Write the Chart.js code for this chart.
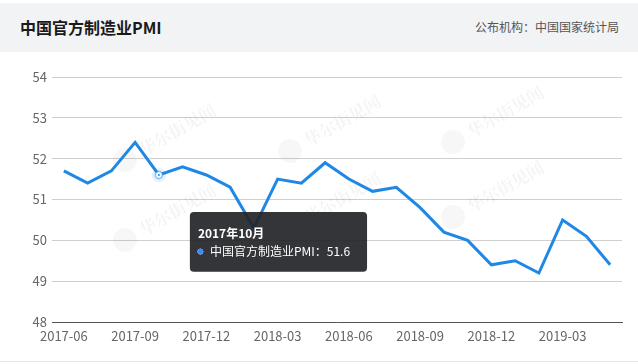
<!DOCTYPE html>
<html>
<head>
<meta charset="utf-8">
<script src="https://cdn.jsdelivr.net/npm/chart.js@4"></script>
<style>
  html, body { margin: 0; padding: 0; background: #fff; }
  body { width: 638px; height: 364px; position: relative; overflow: hidden; font-family: "Noto Sans CJK SC", "Open Sans", sans-serif; }
  #hdr { position: absolute; left: 0; top: 3px; width: 638px; height: 49px; background: #f2f3f5; }
  #title { position: absolute; left: 20px; top: 13px; font-size: 16px; font-weight: bold; color: #1a1a1a; line-height: 22px; }
  #src { position: absolute; right: 19px; top: 16px; font-size: 12px; color: #555; line-height: 16px; }
  #wrap { position: absolute; left: 0; top: 52px; width: 638px; height: 308px; }
  #foot { position: absolute; left: 0; top: 361px; width: 638px; height: 1px; background: #e6e6e6; }
</style>
</head>
<body>
<div id="hdr"><div id="title">中国官方制造业PMI</div><div id="src">公布机构：中国国家统计局</div></div>
<div id="wrap"><canvas id="c" width="638" height="308"></canvas></div>
<div id="foot"></div>
<script>
const categories = ["2017-06","2017-07","2017-08","2017-09","2017-10","2017-11","2017-12",
  "2018-01","2018-02","2018-03","2018-04","2018-05","2018-06","2018-07","2018-08","2018-09",
  "2018-10","2018-11","2018-12","2019-01","2019-02","2019-03","2019-04","2019-05"];
const pmiValues = [51.7,51.4,51.7,52.4,51.6,51.8,51.6,51.3,50.3,51.5,51.4,51.9,51.5,51.2,51.3,50.8,50.2,50.0,49.4,49.5,49.2,50.5,50.1,49.4];
const seriesName = "中国官方制造业PMI";
const yTicks = [48,49,50,51,52,53,54];
const activeIndex = 4;
const watermarkText = "华尔街见闻";

const FONT = '"Noto Sans CJK SC", "Open Sans", sans-serif';
const BLUE = '#1f87e5';

Chart.Tooltip.positioners.offsetPoint = function(items) {
  if (!items.length) return false;
  const el = items[0].element;
  return { x: el.x + 35, y: el.y + 37 };
};

const watermarkPlugin = {
  id: 'watermark',
  beforeDatasetsDraw(chart) {
    const ctx = chart.ctx;
    const spots = [[125,108],[125,188],[290,99],[290,176],[453,90],[453,165]];
    ctx.save();
    spots.forEach(([x,y]) => {
      ctx.save();
      ctx.translate(x, y);
      ctx.rotate(-Math.PI/6);
      ctx.fillStyle = 'rgba(0,0,0,0.03)';
      ctx.beginPath(); ctx.arc(0, 0, 12, 0, Math.PI*2); ctx.fill();
      ctx.fillStyle = 'rgba(0,0,0,0.045)';
      ctx.font = 'bold 17px "Noto Serif CJK SC", ' + FONT;
      ctx.textBaseline = 'middle';
      ctx.fillText(watermarkText, 18, 0);
      ctx.restore();
    });
    ctx.restore();
  }
};

const glowPlugin = {
  id: 'glow',
  afterDatasetsDraw(chart) {
    const active = chart.getActiveElements();
    if (!active.length) return;
    const el = active[0].element;
    const ctx = chart.ctx;
    ctx.save();
    ctx.fillStyle = 'rgba(31,135,229,0.12)';
    ctx.beginPath(); ctx.arc(el.x, el.y, 7, 0, Math.PI*2); ctx.fill();
    ctx.fillStyle = '#fff';
    ctx.strokeStyle = 'rgba(31,135,229,0.5)';
    ctx.lineWidth = 1.5;
    ctx.beginPath(); ctx.arc(el.x, el.y, 3.5, 0, Math.PI*2); ctx.fill(); ctx.stroke();
    ctx.fillStyle = BLUE;
    ctx.beginPath(); ctx.arc(el.x, el.y, 1, 0, Math.PI*2); ctx.fill();
    ctx.restore();
  }
};

const chart = new Chart(document.getElementById('c'), {
  type: 'line',
  data: {
    labels: categories,
    datasets: [{
      label: seriesName,
      data: pmiValues,
      borderColor: BLUE,
      backgroundColor: BLUE,
      borderWidth: 3,
      pointRadius: 0,
      pointHoverRadius: 0,
      tension: 0,
      fill: false
    }]
  },
  options: {
    responsive: false,
    animation: false,
    events: [],
    layout: { padding: { left: 0, right: 16, top: 25, bottom: 0 } },
    plugins: {
      legend: { display: false },
      tooltip: {
        enabled: true,
        position: 'offsetPoint',
        xAlign: 'left',
        yAlign: 'top',
        caretSize: 0,
        caretPadding: 0,
        cornerRadius: 4,
        backgroundColor: 'rgba(34,36,40,0.92)',
        padding: { left: 8, right: 17, top: 14, bottom: 13 },
        titleFont: { family: FONT, size: 12, weight: 'bold' },
        titleColor: '#fff',
        titleMarginBottom: 4,
        bodyFont: { family: FONT, size: 12 },
        bodyColor: '#fff',
        displayColors: true,
        usePointStyle: true,
        boxWidth: 5,
        boxHeight: 5,
        boxPadding: 5,
        callbacks: {
          title: (items) => {
            const [y, m] = items[0].label.split('-');
            return y + '年' + parseInt(m, 10) + '月';
          },
          label: (item) => item.dataset.label + '：' + item.formattedValue,
          labelColor: () => ({ borderColor: '#3d8af7', backgroundColor: '#3d8af7' }),
          labelPointStyle: () => ({ pointStyle: 'circle', rotation: 0 })
        }
      }
    },
    scales: {
      x: {
        offset: true,
        grid: { display: false, drawTicks: false },
        border: { display: true, color: '#555', width: 1 },
        ticks: {
          autoSkip: false,
          maxRotation: 0,
          padding: 6,
          color: '#666',
          font: { family: FONT, size: 13 },
          callback: function(v, i) { return i % 3 === 0 ? categories[i] : ''; }
        },
        afterFit: (s) => { s.height = 38; }
      },
      y: {
        min: yTicks[0],
        max: yTicks[yTicks.length - 1],
        afterBuildTicks: (s) => { s.ticks = yTicks.map(v => ({ value: v })); },
        grid: { color: '#cfcfcf', drawTicks: false, lineWidth: 1 },
        border: { display: false },
        ticks: {
          padding: 5,
          color: '#666',
          font: { family: FONT, size: 13 }
        },
        afterFit: (s) => { s.width = 52; }
      }
    }
  },
  plugins: [watermarkPlugin, glowPlugin]
});

chart.setActiveElements([{ datasetIndex: 0, index: activeIndex }]);
chart.tooltip.setActiveElements([{ datasetIndex: 0, index: activeIndex }], { x: 0, y: 0 });
chart.update();
</script>
</body>
</html>
